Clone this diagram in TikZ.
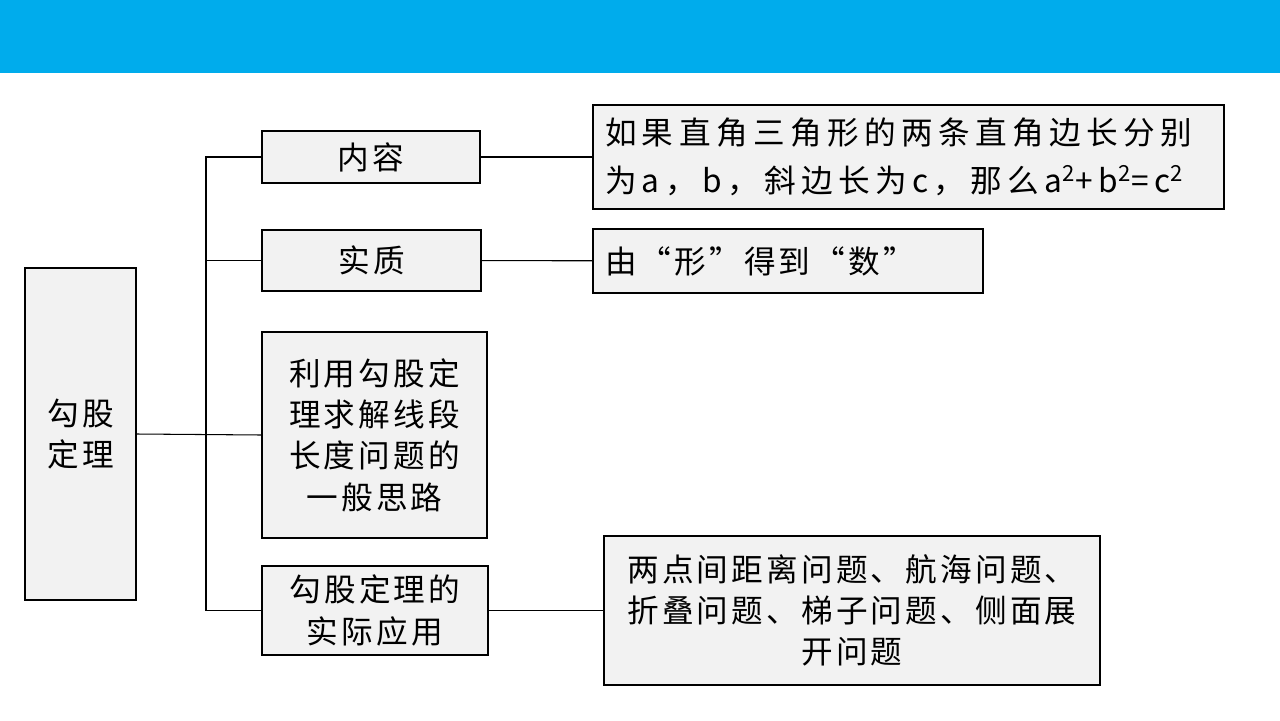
\documentclass[tikz,border=0pt]{standalone}
\usepackage{fontspec}
\newfontfamily\cjk[LetterSpace=10]{Noto Sans CJK SC}
\newfontfamily\cjkwide[LetterSpace=17]{Noto Sans CJK SC}
\usepackage{tikz}
\usetikzlibrary{calc, positioning}
\definecolor{bannerblue}{RGB}{0,172,236}
\definecolor{boxgray}{RGB}{242,242,242}
\tikzset{
  box/.style = {draw, fill = boxgray, line width = .6pt, inner sep = 0pt, align = center,
                font = \cjk\fontsize{18}{23.5}\selectfont},
  leftbox/.style = {box, align = left, inner xsep = .24cm}
}

\begin{document}
\begin{tikzpicture}
      \useasboundingbox (0, 0) rectangle (25.6, -14.4);
      \fill[bannerblue] (0, 0) rectangle (25.6, -1.46);
      % left column
      \node[box, minimum width = 2.22cm, minimum height = 6.64cm] (root) at (1.61, -8.68) {勾股\\定理};
      \node[box, minimum width = 4.36cm, minimum height = 1.04cm] (content) at (7.42, -3.14) {内容};
      \node[box, minimum width = 4.38cm, minimum height = 1.22cm] (essence) at (7.43, -5.21) {实质};
      \node[box, minimum width = 4.5cm, minimum height = 4.12cm] (method) at (7.49, -8.70)
           {利用勾股定\\理求解线段\\长度问题的\\一般思路};
      \node[box, minimum width = 4.52cm, minimum height = 1.78cm] (apply) at (7.5, -12.21)
           {勾股定理的\\实际应用};
      % right column
      \node[leftbox, text width = 12.14cm, minimum height = 2.08cm,
            font = \cjkwide\fontsize{18}{27}\selectfont] (statement) at (18.17, -3.14)
           {如果直角三角形的两条直角边长分别\\为a，b，斜边长为c，那么a\textsuperscript{2}+b\textsuperscript{2}=c\textsuperscript{2}};
      \node[leftbox, text width = 7.32cm, minimum height = 1.28cm] (essencetxt) at (15.76, -5.22)
           {由“形”得到“数”};
      \node[box, minimum width = 9.92cm, minimum height = 2.98cm] (applytxt) at (17.04, -12.21)
           {两点间距离问题、航海问题、\\折叠问题、梯子问题、侧面展\\开问题};
      % connectors
      \coordinate (trunk) at (4.12, 0);
      \draw[line width = .6pt] (root.east) -- (method.west);
      \draw[line width = .6pt] (content.west) -- (content.west -| trunk) -- (apply.west -| trunk) -- (apply.west);
      \draw[line width = .6pt] (essence.west) -- (essence.west -| trunk);
      \draw[line width = .6pt] (content) -- (statement);
      \draw[line width = .6pt] (essence) -- (essencetxt);
      \draw[line width = .6pt] (apply) -- (applytxt);
\end{tikzpicture}
\end{document}
